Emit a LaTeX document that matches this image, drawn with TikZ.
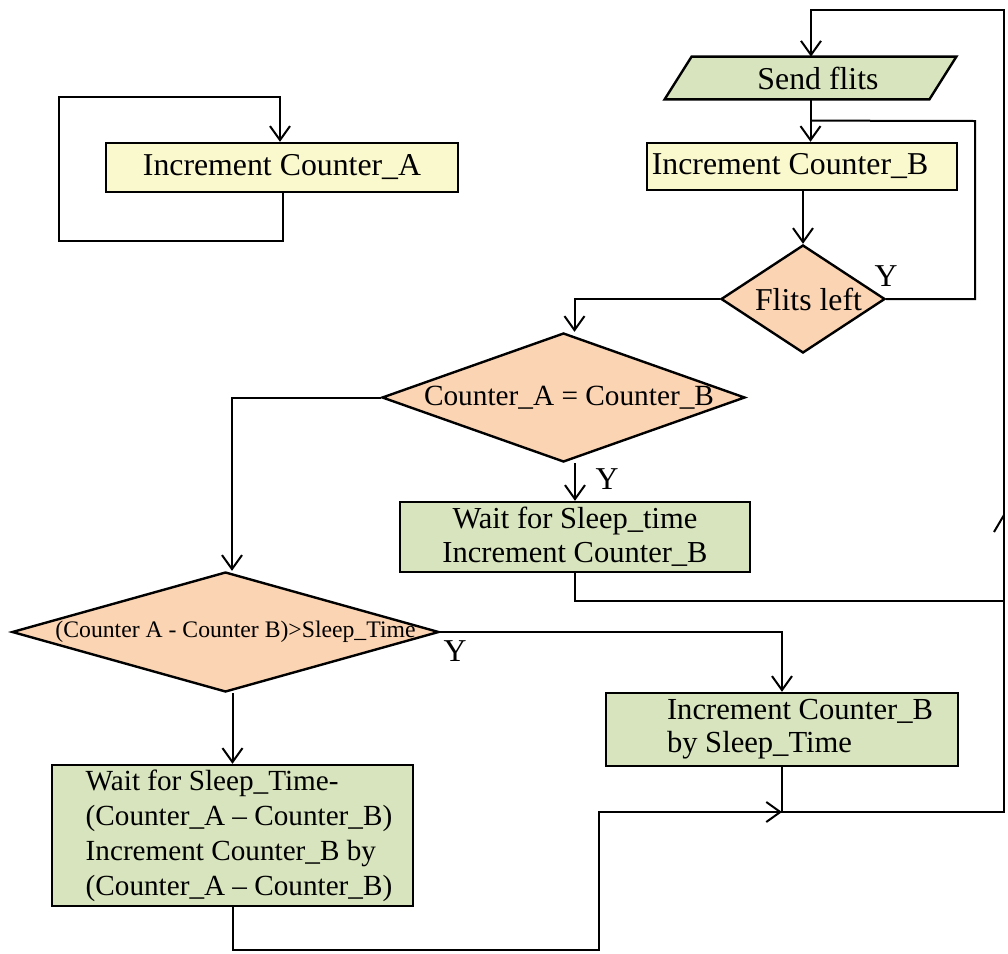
\documentclass[tikz,border=0pt]{standalone}
\usepackage{fontspec}
\setmainfont{Liberation Serif}
\usetikzlibrary{shapes.geometric,arrows.meta,calc,backgrounds}
\definecolor{boxyellow}{HTML}{FAF8CD}
\definecolor{boxgreen}{HTML}{D7E4BD}
\definecolor{decorange}{HTML}{FBD4B4}
% zero-width text, shifted right by half of #1
\newcommand{\zwtext}[2]{\makebox[0pt]{\hspace*{#1}#2}}

\begin{document}
\begin{tikzpicture}[x=0.5pt,y=-0.5pt,
  procbox/.style={draw, line width=1.2pt, rectangle, inner sep=0pt},
  decision/.style={draw, line width=1.2pt, diamond, fill=decorange, inner sep=0pt},
  flow/.style={line width=1pt},
  arrow/.style={flow, -{Straight Barb[length=7pt,width=10pt]}},
  bigfont/.style={font=\fontsize{15.9}{19}\selectfont},
]
\useasboundingbox (0,0) rectangle (1008,954);

% ---- boxes and decisions ----
\node[procbox, fill=boxyellow, minimum width=176pt, minimum height=24.5pt, bigfont]
  (incA) at (282,167.5) {Increment Counter\_A};

% input/output step: text node, its slanted outline is drawn behind it
\node[rectangle, inner sep=0pt, minimum width=132pt, minimum height=21pt, bigfont]
  (send) at (810.5,78) {\zwtext{7.5pt}{Send flits}};
\begin{scope}[on background layer]
  \draw[line width=1.2pt, fill=boxgreen]
    ([xshift=-6.75pt]send.south west) -- ([xshift=6.75pt]send.north west)
    -- ([xshift=6.75pt]send.north east) -- ([xshift=-6.75pt]send.south east) -- cycle;
\end{scope}

\node[procbox, fill=boxyellow, minimum width=155pt, minimum height=23.5pt, bigfont]
  (incB) at (802,166.5) {Increment Counter\_B\hspace*{12pt}};

\node[decision, minimum width=82pt, minimum height=54pt, bigfont]
  (flits) at (803,299) {\zwtext{5.5pt}{Flits left}};

\node[decision, minimum width=181.5pt, minimum height=64.5pt,
  font=\fontsize{14.65}{17}\selectfont]
  (eqd) at (563.5,397.5) {\zwtext{5.5pt}{Counter\_A = Counter\_B}};

\node[procbox, fill=boxgreen, minimum width=175pt, minimum height=35pt, align=center,
  font=\fontsize{15.25}{17}\selectfont]
  (sleepwait) at (575,537) {Wait for Sleep\_time\\Increment Counter\_B};

\node[decision, minimum width=213.5pt, minimum height=60pt,
  font=\fontsize{11.85}{14}\selectfont]
  (cmpd) at (225.5,632) {\zwtext{10pt}{(Counter A - Counter B)>Sleep\_Time}};

\node[procbox, fill=boxgreen, minimum width=176pt, minimum height=36.5pt, align=left,
  font=\fontsize{15.3}{16.5}\selectfont]
  (incsleep) at (782,729.5) {\hspace*{18pt}Increment Counter\_B\\\hspace*{18pt}by Sleep\_Time};

\node[procbox, fill=boxgreen, minimum width=180.5pt, minimum height=70.5pt, align=left,
  font=\fontsize{14.6}{17.5}\selectfont]
  (bigbox) at (232.5,835.5) {\hspace*{6.5pt}Wait for Sleep\_Time-\\\hspace*{6.5pt}(Counter\_A -- Counter\_B)\\\hspace*{6.5pt}Increment Counter\_B by\\\hspace*{6.5pt}(Counter\_A -- Counter\_B)};

% ---- branch labels ----
\node[bigfont] (yflits) at (886,276) {Y};
\node[bigfont] (yeq) at (607,479) {Y};
\node[bigfont] (ycmp) at (455,651) {Y};

% ---- corner points of the connectors ----
\coordinate (loopA1) at (59,241);
\coordinate (loopA2) at (280,97);
\coordinate (railB) at (1004,812);
\coordinate (railT) at (1004,10);
\coordinate (railTick) at (1004,515);
\coordinate (fY) at (975,121);
\coordinate (jB) at ($(send.south)!0.5!(send.south |- incB.north)$);
\coordinate (rm) at (railB |- 0,601);
\coordinate (jS) at (incsleep.south |- railB);
\coordinate (bc) at (599,950);

% ---- connectors ----
\draw[arrow] ([xshift=0.5pt]incA.south) |- (loopA1) |- (loopA2) -- ([xshift=-1pt]incA.north);
\draw[arrow] (send.south) -- (send.south |- incB.north);
\draw[arrow] (flits.north |- incB.south) -- (flits.north);
\draw[flow] (flits.east) -| (fY) -- (jB);
\draw[arrow] (flits.west) -| ([xshift=5.5pt]eqd.north);
\draw[arrow] (sleepwait.north |- eqd.south) -- (sleepwait.north);
\draw[flow] (sleepwait.south) |- (rm);
\draw[arrow] (eqd.west) -| ([xshift=3.25pt]cmpd.north);
\draw[arrow] (cmpd.east) -| (incsleep.north);
\draw[arrow] (bigbox.north |- cmpd.south) -- (bigbox.north);
\draw[arrow] (incsleep.south) -- (jS) -- (railB) -- (railT) -| ([xshift=0.25pt]send.north);
\draw[arrow] (bigbox.south) |- (bc) |- (jS);
\draw[flow] (railTick) -- ++(-10,17);
\end{tikzpicture}
\end{document}
